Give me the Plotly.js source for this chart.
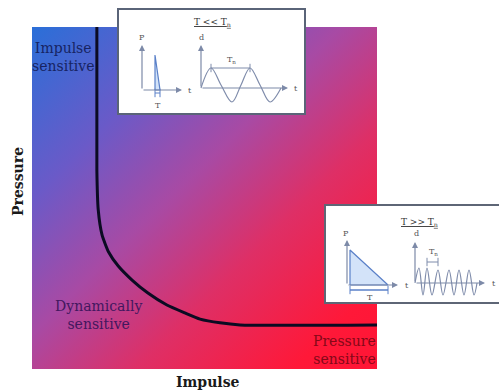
<!DOCTYPE html>
<html>
<head>
<meta charset="utf-8">
<script src="https://cdn.plot.ly/plotly-3.0.1.min.js"></script>
<style>html,body{margin:0;padding:0;background:#fff;}#chart{width:499px;height:392px;}</style>
</head>
<body>
<div id="chart"></div>
<script>
// ---- data ----
// main P-I curve (normalised impulse / pressure)
const curveImpulse  = [0.188, 0.188, 0.192, 0.203, 0.222, 0.250, 0.290, 0.336, 0.391, 0.443, 0.487, 0.545, 0.603, 1.0];
const curvePressure = [1.0,   0.582, 0.465, 0.392, 0.342, 0.301, 0.260, 0.222, 0.187, 0.164, 0.146, 0.135, 0.129, 0.129];
// inset 1 (T << Tn): short pulse and long-period response
const shortPulseT = [13, 13, 18, 13];
const shortPulseP = [0, 35, 0, 0];
const slowRespT = [0, 10, 20, 31, 40, 49, 59, 69, 80];
const slowRespD = [0, 20, 3, -14, 3, 20, 3, -14, 0];
// inset 2 (T >> Tn): long pulse and fast response
const longPulseT = [3, 3, 41, 3];
const longPulseP = [0, 35, 0, 0];
const fastRespT = [0, 4, 8, 12, 17, 23, 28, 34, 39, 44, 49, 54, 59, 62];
const fastRespD = [0, 15, -12, 15, -12, 13, -12, 13, -12, 13, -12, 13, -12, 0];
// labels
const regionLabels = ["Impulse<br>sensitive", "Dynamically<br>sensitive", "Pressure<br>sensitive"];
const axisTitles = {x: "Impulse", y: "Pressure"};
const insetTitles = ["T &lt;&lt; T<sub>n</sub>", "T &gt;&gt; T<sub>n</sub>"];

// ---- helpers (pixel -> paper) ----
const W = 499, H = 392;
const px = v => v / W;
const py = v => 1 - v / H;

const serif = "DejaVu Serif, Liberation Serif, serif";
const axCol = "#7d8aa8";
const waveCol = "#7f8cab";
const pulseLine = "#5a80c8";
const pulseFill = "rgba(200,220,248,0.8)";

const traces = [
  {x: curveImpulse, y: curvePressure, xaxis: 'x', yaxis: 'y', mode: 'lines',
   line: {color: '#0b0b22', width: 3, shape: 'spline', smoothing: 0.5}},
  {x: shortPulseT, y: shortPulseP, xaxis: 'x2', yaxis: 'y2', mode: 'lines', fill: 'toself',
   fillcolor: pulseFill, line: {color: pulseLine, width: 1.2}},
  {x: [shortPulseT[0], shortPulseT[2]], y: [-3, -3], xaxis: 'x2', yaxis: 'y2', mode: 'lines+markers',
   marker: {symbol: 'line-ns', size: 6, line: {color: pulseLine, width: 1}}, line: {color: pulseLine, width: 1}},
  {x: slowRespT, y: slowRespD, xaxis: 'x3', yaxis: 'y3', mode: 'lines',
   line: {color: waveCol, width: 1.2, shape: 'spline', smoothing: 1}},
  {x: [slowRespT[1], slowRespT[5]], y: [slowRespD[1], slowRespD[1]], xaxis: 'x3', yaxis: 'y3', mode: 'lines+markers',
   marker: {symbol: 'line-ns', size: 6, line: {color: waveCol, width: 1}}, line: {color: waveCol, width: 1}},
  {x: longPulseT, y: longPulseP, xaxis: 'x4', yaxis: 'y4', mode: 'lines', fill: 'toself',
   fillcolor: pulseFill, line: {color: pulseLine, width: 1.2}},
  {x: [longPulseT[0], longPulseT[2]], y: [-5, -5], xaxis: 'x4', yaxis: 'y4', mode: 'lines+markers',
   marker: {symbol: 'line-ns', size: 6, line: {color: pulseLine, width: 1}}, line: {color: pulseLine, width: 1.5}},
  {x: fastRespT, y: fastRespD, xaxis: 'x5', yaxis: 'y5', mode: 'lines',
   line: {color: waveCol, width: 1.2, shape: 'spline', smoothing: 1}},
  {x: [fastRespT[3], fastRespT[5]], y: [21, 21], xaxis: 'x5', yaxis: 'y5', mode: 'lines+markers',
   marker: {symbol: 'line-ns', size: 6, line: {color: waveCol, width: 1}}, line: {color: waveCol, width: 1}}
];
traces.forEach(t => { t.hoverinfo = 'skip'; t.showlegend = false; });

function hid(domain, range, anchor) {
  return {domain: domain, range: range, anchor: anchor, visible: false, fixedrange: true,
          showgrid: false, zeroline: false};
}

const layout = {
  width: W, height: H,
  margin: {l: 0, r: 0, t: 0, b: 0, pad: 0},
  paper_bgcolor: '#ffffff', plot_bgcolor: 'rgba(0,0,0,0)',
  showlegend: false,
  xaxis: hid([px(32), px(377)], [0, 1], 'y'),
  yaxis: hid([py(369), py(27)], [0, 1], 'x'),
  xaxis2: hid([px(130), px(195)], [-12, 53], 'y2'),
  yaxis2: hid([py(110), py(30)], [-20, 60], 'x2'),
  xaxis3: hid([px(195), px(300)], [-6, 99], 'y3'),
  yaxis3: hid([py(110), py(30)], [-22, 58], 'x3'),
  xaxis4: hid([px(335), px(410)], [-12, 63], 'y4'),
  yaxis4: hid([py(305), py(225)], [-20, 60], 'x4'),
  xaxis5: hid([px(410), px(499)], [-5, 84], 'y5'),
  yaxis5: hid([py(305), py(225)], [-22, 58], 'x5'),
  shapes: [
    {type: 'rect', xref: 'paper', yref: 'paper', x0: px(118), x1: px(305), y0: py(114), y1: py(9),
     fillcolor: '#ffffff', line: {color: '#5a6478', width: 2}, layer: 'below'},
    {type: 'rect', xref: 'paper', yref: 'paper', x0: px(325), x1: px(506), y0: py(303), y1: py(205),
     fillcolor: '#ffffff', line: {color: '#5e6676', width: 2}, layer: 'below'}
  ],
  images: [],
  annotations: []
};

// gradient background of the main plot area
const svg = "<svg xmlns='http://www.w3.org/2000/svg' width='345' height='342' viewBox='0 0 345 342' preserveAspectRatio='none'>" +
  "<defs><linearGradient id='g' x1='0' y1='0' x2='1' y2='1'>" +
  "<stop offset='0' stop-color='#2a6fd8'/>" +
  "<stop offset='0.25' stop-color='#6a5ac8'/>" +
  "<stop offset='0.45' stop-color='#a84aa4'/>" +
  "<stop offset='0.65' stop-color='#de2f66'/>" +
  "<stop offset='0.88' stop-color='#ff1838'/>" +
  "<stop offset='1' stop-color='#ff1535'/>" +
  "</linearGradient></defs><rect width='345' height='342' fill='url(#g)'/></svg>";
layout.images.push({
  source: "data:image/svg+xml;charset=utf-8," + encodeURIComponent(svg),
  xref: 'paper', yref: 'paper', x: px(32), y: py(27), sizex: px(377) - px(32), sizey: py(27) - py(369),
  xanchor: 'left', yanchor: 'top', sizing: 'stretch', layer: 'below'
});

const A = layout.annotations;
function txt(x, y, text, opts) {
  A.push(Object.assign({xref: 'paper', yref: 'paper', x: px(x), y: py(y), text: text, showarrow: false,
    xanchor: 'center', yanchor: 'middle',
    font: {family: serif, size: 14, color: '#222'}}, opts || {}));
}
// region labels
txt(63, 57, regionLabels[0], {font: {family: serif, size: 14, color: '#172463'}});
txt(98, 315, regionLabels[1], {font: {family: serif, size: 14, color: '#43175f'}});
txt(378, 350, regionLabels[2], {xanchor: 'right', align: 'right', font: {family: serif, size: 14, color: '#850818'}});
// axis titles
txt(208, 382, '<b>' + axisTitles.x + '</b>', {font: {family: serif, size: 14, color: '#1a1a1a'}});
txt(18, 182, '<b>' + axisTitles.y + '</b>', {textangle: -90, font: {family: serif, size: 14, color: '#1a1a1a'}});
// inset titles
txt(212, 22, '<u>' + insetTitles[0] + '</u>', {font: {family: serif, size: 9, color: '#333'}});
txt(419, 222, '<u>' + insetTitles[1] + '</u>', {font: {family: serif, size: 9, color: '#333'}});

// mini-axis arrows and labels
function arrow(ax, ay, x, y, xa, ya) {
  A.push({xref: xa, yref: ya, axref: xa, ayref: ya, x: x, y: y, ax: ax, ay: ay, text: '',
    showarrow: true, arrowhead: 2, arrowsize: 1, arrowwidth: 1.2, arrowcolor: axCol});
}
function lab(x, y, text, xa, ya, extra) {
  A.push(Object.assign({xref: xa, yref: ya, x: x, y: y, text: text, showarrow: false,
    xanchor: 'center', yanchor: 'middle',
    font: {family: serif, size: 8, color: '#555'}}, extra || {}));
}
// inset 1 left (pulse)
arrow(0, 0, 40, 0, 'x2', 'y2'); arrow(0, 0, 0, 45, 'x2', 'y2');
lab(0, 53, 'P', 'x2', 'y2'); lab(44, 0, 't', 'x2', 'y2', {xanchor: 'left'}); lab(15.5, -15, 'T', 'x2', 'y2');
// inset 1 right (response)
arrow(0, 0, 87, 0, 'x3', 'y3'); arrow(0, 0, 0, 43, 'x3', 'y3');
lab(0, 51, 'd', 'x3', 'y3'); lab(91, 0, 't', 'x3', 'y3', {xanchor: 'left'}); lab(30, 28, 'T<sub>n</sub>', 'x3', 'y3');
// inset 2 left (pulse)
arrow(0, 0, 51, 0, 'x4', 'y4'); arrow(0, 0, 0, 45, 'x4', 'y4');
lab(-1, 52, 'P', 'x4', 'y4'); lab(56, 0, 't', 'x4', 'y4', {xanchor: 'left'}); lab(23, -12, 'T', 'x4', 'y4');
// inset 2 right (response)
arrow(0, 0, 70, 0, 'x5', 'y5'); arrow(0, 0, 0, 41, 'x5', 'y5');
lab(1, 50, 'd', 'x5', 'y5'); lab(75, 0, 't', 'x5', 'y5', {xanchor: 'left'}); lab(18, 31, 'T<sub>n</sub>', 'x5', 'y5');

Plotly.newPlot('chart', traces, layout, {staticPlot: true, displayModeBar: false});
</script>
</body>
</html>
